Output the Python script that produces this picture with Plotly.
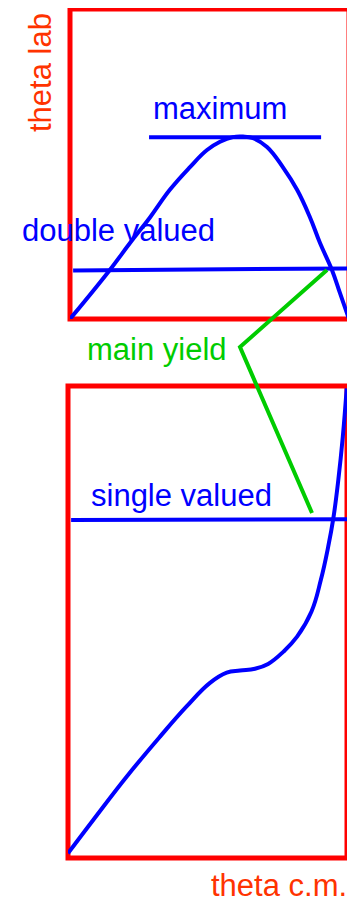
import plotly.graph_objects as go

# ---- data (theta c.m. in degrees) ----
top_cm = [0, 25.7, 38.7, 51.7, 64.4, 77.4, 88.4, 96.8, 105.1, 111.6, 118.1,
          127.1, 137.3, 146.5, 154.8, 161.3, 169.0, 174.2, 180]
top_lab = [0, 9.5, 14.7, 19.7, 25.0, 29.4, 32.7, 34.3, 35.2, 35.3, 35.0,
           33.3, 29.4, 25.0, 19.7, 14.7, 9.5, 5.0, 0]

bot_cm = [0, 16.4, 37.8, 59.4, 76.5, 91.6, 102.4, 111.0, 120.6, 129.1, 139.0,
          147.8, 157.1, 163.1, 167.9, 171.2, 174.4, 177.3, 179.8]
bot_lab = [1.8, 14.6, 31.0, 46.3, 57.8, 66.8, 70.7, 71.5, 72.2, 74.0, 78.7,
           84.4, 94.0, 106.0, 118.8, 129.6, 144.2, 160.7, 179.1]

max_line_cm = [51, 162]
max_line_lab = [35.2, 35.2]
double_line_cm = [2, 182.5]
double_line_lab = [9.4, 9.8]
single_line_cm = [2, 182.5]
single_line_lab = [128.9, 129.2]

# pointer for "main yield" (page pixels, x and y from top-left)
yield_px = [327, 240, 312]
yield_py = [270, 347, 513]

# page body adds an 8px margin: lay out in page pixels and subtract it
OFF = 8
PAGE_W, PAGE_H = 355, 905
W, H = PAGE_W - OFF, PAGE_H - OFF
BLUE = "#0000FF"
RED = "#FF0000"
TXT_RED = "#FF3300"
GREEN = "#00CC00"
FONT = "Liberation Sans, Arial, sans-serif"

def fx(px):
    return (px - OFF) / W

def fy(py):
    return 1 - (py - OFF) / H

fig = go.Figure()

curve_line = dict(color=BLUE, width=4, shape="spline", smoothing=1.2)

fig.add_trace(go.Scatter(x=top_cm, y=top_lab, mode="lines", line=curve_line,
                         xaxis="x", yaxis="y", hoverinfo="skip"))
fig.add_trace(go.Scatter(x=max_line_cm, y=max_line_lab, mode="lines", line=dict(color=BLUE, width=4),
                         xaxis="x", yaxis="y", hoverinfo="skip"))
fig.add_trace(go.Scatter(x=double_line_cm, y=double_line_lab, mode="lines", line=dict(color=BLUE, width=4),
                         xaxis="x", yaxis="y", hoverinfo="skip"))

fig.add_trace(go.Scatter(x=bot_cm, y=bot_lab, mode="lines", line=curve_line,
                         xaxis="x2", yaxis="y2", hoverinfo="skip"))
fig.add_trace(go.Scatter(x=single_line_cm, y=single_line_lab, mode="lines", line=dict(color=BLUE, width=4),
                         xaxis="x2", yaxis="y2", hoverinfo="skip"))

fig.add_trace(go.Scatter(x=[fx(p) for p in yield_px], y=[fy(p) for p in yield_py], mode="lines",
                         line=dict(color=GREEN, width=4),
                         xaxis="x3", yaxis="y3", hoverinfo="skip"))

hidden = dict(showgrid=False, zeroline=False, showticklabels=False, ticks="", showline=False, fixedrange=True)

fig.update_layout(
    width=W, height=H,
    margin=dict(l=0, r=0, t=0, b=0),
    paper_bgcolor="white",
    plot_bgcolor="rgba(0,0,0,0)",
    showlegend=False,
    xaxis=dict(domain=[fx(70), fx(349)], range=[0, 180], anchor="y", **hidden),
    yaxis=dict(domain=[fy(319), fy(9)], range=[0, 60], anchor="x", **hidden),
    xaxis2=dict(domain=[fx(68), fx(347)], range=[0, 180], anchor="y2", **hidden),
    yaxis2=dict(domain=[fy(858), fy(386)], range=[0, 180], anchor="x2", **hidden),
    xaxis3=dict(domain=[0, 1], range=[0, 1], anchor="y3", **hidden),
    yaxis3=dict(domain=[0, 1], range=[0, 1], anchor="x3", **hidden),
)

for xr, yr in (("x domain", "y domain"), ("x2 domain", "y2 domain")):
    fig.add_shape(type="rect", xref=xr, yref=yr, x0=0, x1=1, y0=0, y1=1,
                  line=dict(color=RED, width=5), fillcolor="rgba(0,0,0,0)", layer="below")

def label(text, px, py, color, angle=0):
    fig.add_annotation(text=text, x=fx(px), y=fy(py), xref="paper", yref="paper",
                       showarrow=False, textangle=angle, xanchor="center", yanchor="middle",
                       font=dict(family=FONT, size=31, color=color))

label("maximum", 219.5, 109, BLUE)
label("double valued", 118.5, 230, BLUE)
label("main yield", 157, 349, GREEN)
label("single valued", 181, 495, BLUE)
label("theta lab", 41, 73, TXT_RED, angle=-90)
label("theta c.m.", 279, 885, TXT_RED)

fig.write_html("out.html", config={"displayModeBar": False})
